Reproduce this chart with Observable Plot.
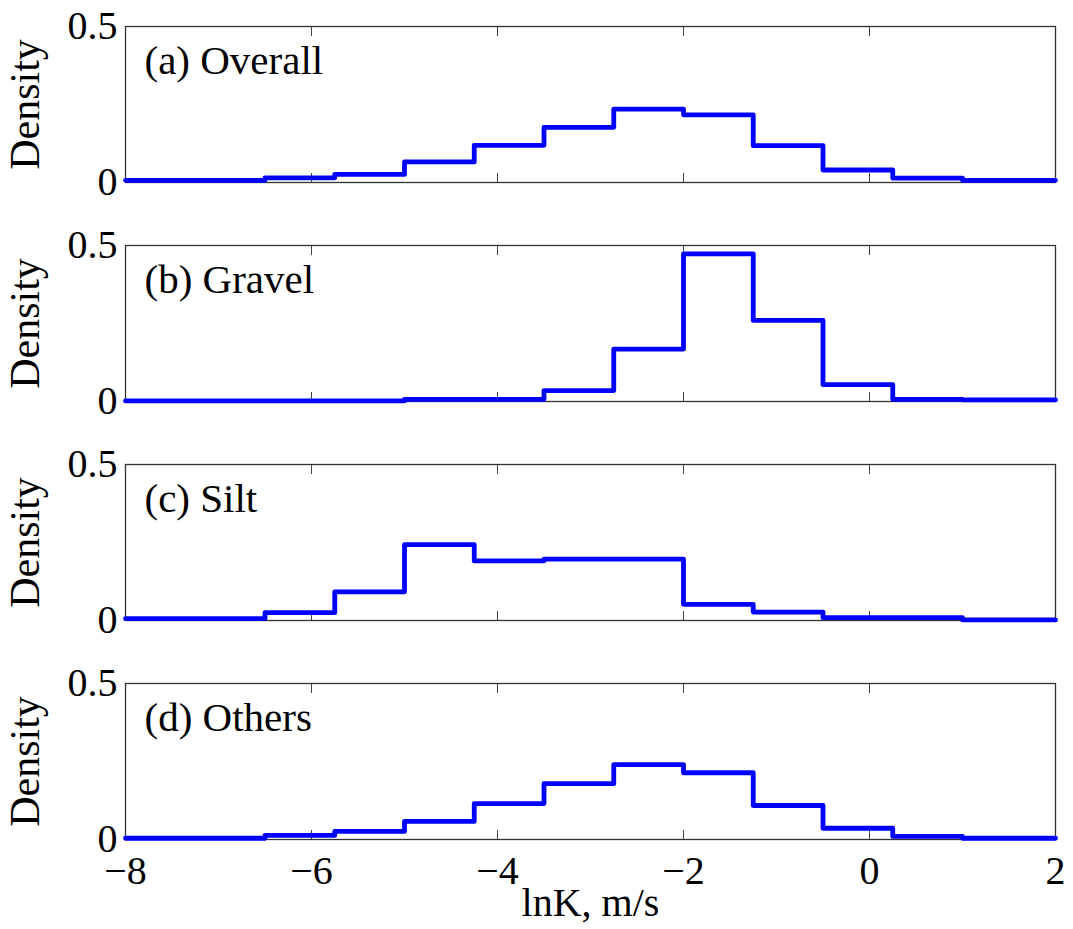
<!DOCTYPE html>
<html>
<head>
<meta charset="utf-8">
<script src="https://cdn.jsdelivr.net/npm/d3@7"></script>
<script src="https://cdn.jsdelivr.net/npm/@observablehq/plot@0.6"></script>
<style>
  body { margin: 0; background: #fff; }
  #chart svg { display: block; font-family: "Liberation Serif", "Times New Roman", serif !important; }
  #chart svg text { font-family: "Liberation Serif", "Times New Roman", serif !important; }
</style>
</head>
<body>
<div id="chart"></div>
<script>
// Bin edges of the lnK histograms (m/s), shared by all four panels
const edges = [-8, -7.25, -6.5, -5.75, -5, -4.25, -3.5, -2.75, -2, -1.25, -0.5, 0.25, 1, 1.75, 2];

// Density per bin
const overall = [0.007, 0.007, 0.015, 0.026, 0.066, 0.119, 0.177, 0.235, 0.217, 0.118, 0.040, 0.014, 0.007, 0.007];
const gravel  = [0.002, 0.002, 0.002, 0.002, 0.007, 0.007, 0.035, 0.168, 0.473, 0.260, 0.054, 0.007, 0.005, 0.005];
const silt    = [0.006, 0.006, 0.025, 0.092, 0.243, 0.191, 0.197, 0.197, 0.052, 0.027, 0.009, 0.009, 0.002, 0.002];
const others  = [0.004, 0.004, 0.013, 0.026, 0.058, 0.115, 0.179, 0.240, 0.214, 0.109, 0.036, 0.010, 0.004, 0.004];

const titles = ["(a) Overall", "(b) Gravel", "(c) Silt", "(d) Others"];
const series = [overall, gravel, silt, others];

const xTicks = [-8, -6, -4, -2, 0, 2];
const yTicks = [0, 0.5];
const xLabel = "lnK, m/s";
const yLabel = "Density";

const FONT = "Liberation Serif";
const chart = document.getElementById("chart");

series.forEach((values, i) => {
  const last = i === series.length - 1;
  // stairs outline: each edge carries the value of the bin that starts there
  const pts = edges.map((x, j) => ({x, y: values[Math.min(j, values.length - 1)]}));

  const svg = Plot.plot({
    width: 1073,
    height: last ? 272 : 219,
    marginLeft: 125,
    marginRight: 18,
    marginTop: 26,
    marginBottom: last ? 90 : 37,
    style: {fontFamily: FONT, background: "white", color: "black", overflow: "visible"},
    x: {domain: [-8, 2]},
    y: {domain: [0, 0.5]},
    marks: [
      Plot.axisX(xTicks, {anchor: "bottom", tickSize: -9, text: null, label: null, stroke: "#444"}),
      Plot.axisX(xTicks, {anchor: "top", tickSize: -9, text: null, label: null, stroke: "#444"}),
      last ? Plot.axisX(xTicks, {anchor: "bottom", tickSize: 0, tickPadding: 16, fontSize: 40, fontFamily: FONT, label: null}) : null,
      Plot.axisY(yTicks, {anchor: "left", tickSize: 0, tickPadding: 8, fontSize: 40, fontFamily: FONT, label: null, tickFormat: d => String(d)}),
      Plot.frame({stroke: "#333", strokeWidth: 1.3}),
      Plot.text([yLabel], {frameAnchor: "left", textAnchor: "middle", lineAnchor: "middle", rotate: -90, dx: -100, fontSize: 42, fontFamily: FONT}),
      Plot.text([titles[i]], {frameAnchor: "top-left", textAnchor: "start", lineAnchor: "middle", dx: 19, dy: 34, fontSize: 41, fontFamily: FONT}),
      Plot.line(pts, {x: "x", y: "y", curve: "step-after", stroke: "#0000ff", strokeWidth: 4.8, strokeLinejoin: "round"}),
      last ? Plot.text([xLabel], {frameAnchor: "bottom", textAnchor: "middle", lineAnchor: "middle", dy: 64, fontSize: 40, fontFamily: FONT}) : null
    ]
  });
  chart.appendChild(svg);
});
</script>
</body>
</html>
